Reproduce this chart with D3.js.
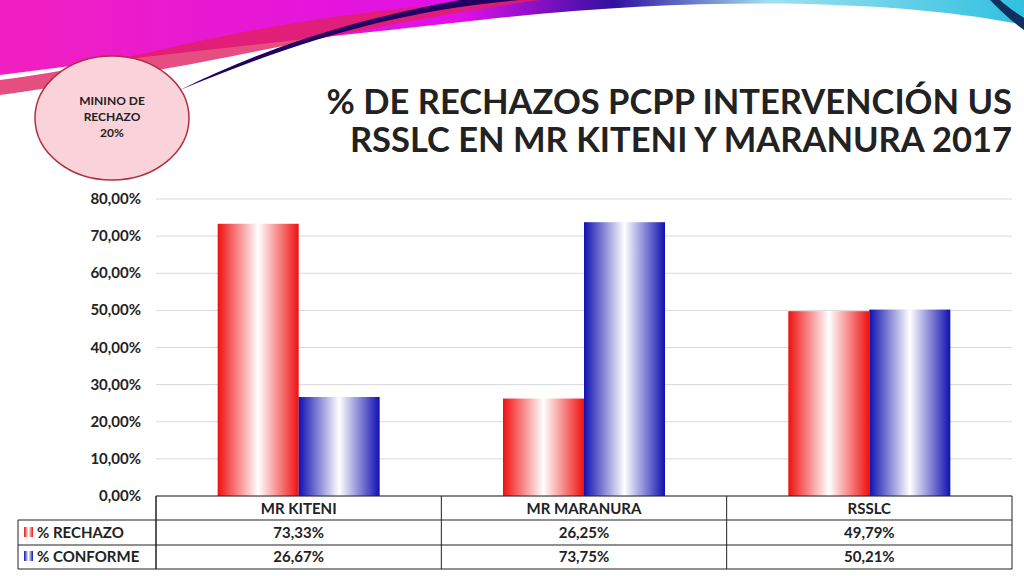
<!DOCTYPE html><html><head><meta charset="utf-8"><script src="https://cdn.jsdelivr.net/npm/d3@7"></script>
<style>body{margin:0}svg{display:block}</style></head><body><svg id="c" width="1024" height="576"></svg>
<script>
const categories=["MR KITENI","MR MARANURA","RSSLC"];
const seriesNames=["% RECHAZO","% CONFORME"];
const rechazo=[73.33,26.25,49.79];
const conforme=[26.67,73.75,50.21];
const labelsR=["73,33%","26,25%","49,79%"];
const labelsC=["26,67%","73,75%","50,21%"];
const yTicks=[0,10,20,30,40,50,60,70,80];
const svg=d3.select("#c");const F="Lato, 'DejaVu Sans', sans-serif";
const defs=svg.append("defs");
function grad(id,c){const g=defs.append("linearGradient").attr("id",id);
 [[0,c],[0.5,"#fff"],[1,c]].forEach(s=>g.append("stop").attr("offset",s[0]).attr("stop-color",s[1]));}
grad("gr","#f01010");grad("gb","#1010b0");
const bg=defs.append("linearGradient").attr("id","ban").attr("x1",0).attr("x2",1);
[[0,"#f020c0"],[0.45,"#e010e8"],[0.6,"#3010a0"],[0.75,"#a0e0f0"],[1,"#30c0e0"]].forEach(s=>bg.append("stop").attr("offset",s[0]).attr("stop-color",s[1]));
svg.append("rect").attr("width",1024).attr("height",576).attr("fill","#fff");
svg.append("path").attr("d","M0,0 H1024 V25 C900,0 700,-5 480,20 C300,40 150,55 0,75 Z").attr("fill","url(#ban)");
svg.append("path").attr("d","M0,80 C150,62 220,20 500,0 L540,0 C330,30 250,60 0,95 Z").attr("fill","#e02060").attr("opacity",0.8);
svg.append("path").attr("d","M180,90 C300,40 400,10 520,0 L460,0 C350,20 260,50 180,90 Z").attr("fill","#200060");
svg.append("path").attr("d","M990,0 C1000,10 1010,20 1024,30 V18 C1015,12 1005,5 1000,0 Z").attr("fill","#103060");
svg.append("ellipse").attr("cx",112).attr("cy",118).attr("rx",77).attr("ry",62).attr("fill","#f9d2da").attr("stroke","#b03040").attr("stroke-width",1.5);
["MININO DE","RECHAZO","20%"].forEach((t,i)=>svg.append("text").attr("x",112).attr("y",105+i*16).attr("text-anchor","middle").attr("font-family",F).attr("font-weight","bold").attr("font-size",12).attr("fill","#222").text(t));
["% DE RECHAZOS PCPP INTERVENCIÓN US","RSSLC EN MR KITENI Y MARANURA 2017"].forEach((t,i)=>svg.append("text").attr("x",1012).attr("y",114+i*38).attr("text-anchor","end").attr("font-family",F).attr("font-weight","bold").attr("font-size",34.5).attr("fill","#222").text(t));
const x=d3.scaleBand().domain(categories).range([156,1012]);
const y=d3.scaleLinear().domain([0,80]).range([496,199]);
const g=svg.append("g");
yTicks.forEach(t=>{g.append("line").attr("x1",156).attr("x2",1012).attr("y1",y(t)).attr("y2",y(t)).attr("stroke","#d9d9d9");
 g.append("text").attr("x",141).attr("y",y(t)+5).attr("text-anchor","end").attr("font-family",F).attr("font-weight","bold").attr("font-size",15).attr("fill","#222").text(String(t)+",00%");});
const bw=81;
categories.forEach((c,i)=>{const cx=x(c)+x.bandwidth()/2;
 g.append("rect").attr("x",cx-bw).attr("width",bw).attr("y",y(rechazo[i])).attr("height",y(0)-y(rechazo[i])).attr("fill","url(#gr)");
 g.append("rect").attr("x",cx).attr("width",bw).attr("y",y(conforme[i])).attr("height",y(0)-y(conforme[i])).attr("fill","url(#gb)");});
const tl=svg.append("g").attr("stroke","#222").attr("stroke-width",1).attr("fill","none");
tl.append("path").attr("d",`M156,496 H1012 M18,520 H1012 M18,545 H1012 M18,569 H1012 M18,520 V569 M156,496 V569 M1012,496 V569`);
categories.forEach(c=>tl.append("line").attr("x1",x(c)).attr("x2",x(c)).attr("y1",496).attr("y2",569));
const txt=(xx,yy,t,a)=>svg.append("text").attr("x",xx).attr("y",yy).attr("text-anchor",a||"middle").attr("font-family",F).attr("font-weight","bold").attr("font-size",15).attr("fill","#222").text(t);
categories.forEach((c,i)=>{const cx=x(c)+x.bandwidth()/2;txt(cx,514,c);txt(cx,538,labelsR[i]);txt(cx,562,labelsC[i]);});
[["gr",533,seriesNames[0]],["gb",557,seriesNames[1]]].forEach(([id,yy,n])=>{
 svg.append("rect").attr("x",24).attr("y",yy-6).attr("width",9).attr("height",10).attr("fill",`url(#${id})`);
 txt(37,yy+5,n,"start");});
</script></body></html>
